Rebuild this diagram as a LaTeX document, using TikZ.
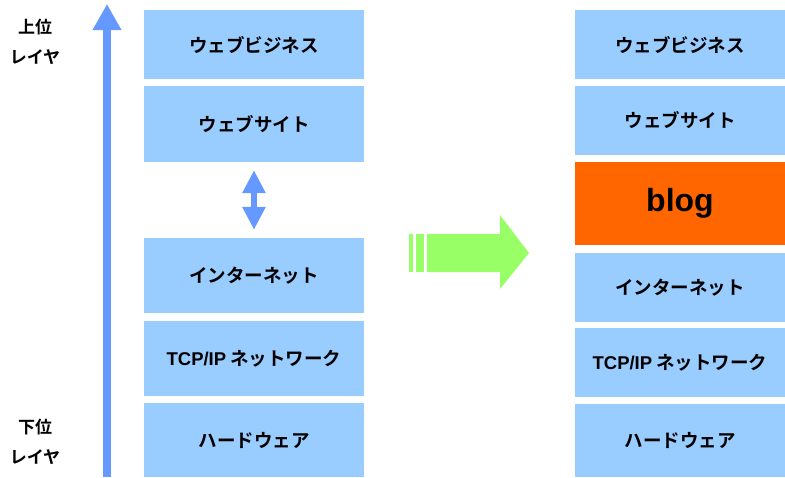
\documentclass[tikz,border=0pt]{standalone}
\usepackage{fontspec}
\setmainfont{Liberation Sans}
\newfontfamily\jpb{Noto Sans CJK JP Bold}
\usepackage{tikz}
\usetikzlibrary{arrows.meta}
\definecolor{layerblue}{HTML}{99CCFF}
\definecolor{axisblue}{HTML}{6699FF}
\definecolor{blogorange}{HTML}{FF6600}
\definecolor{shiftgreen}{HTML}{99FF66}
\newcommand{\lat}[1]{{\rmfamily\bfseries #1}}

\begin{document}
\begin{tikzpicture}[x=1pt, y=-1pt,
  layer/.style={fill=layerblue, inner sep=0pt, font=\jpb\fontsize{18.5}{20}\selectfont},
  side/.style={align=center, font=\jpb\fontsize{17}{30}\selectfont}]
\useasboundingbox (0,0) rectangle (785,477);
% left stack
\foreach \name/\y/\h/\txt in {
L1/44.5/69/ウェブビジネス, L2/124/76/ウェブサイト,
L3/275.5/75/インターネット, L4/358.5/75/{\lat{TCP/IP} ネットワーク},
L5/440/74/ハードウェア
}{
\node[layer, minimum width=220pt, minimum height=\h pt] (\name) at (254,\y) {\txt};
}
% right stack
\foreach \name/\y/\h/\txt in {
R1/44.5/69/ウェブビジネス, R2/120.5/69/ウェブサイト,
R4/287.5/69/インターネット, R5/362.5/69/{\lat{TCP/IP} ネットワーク},
R6/440.5/73/ハードウェア
}{
\node[layer, minimum width=210pt, minimum height=\h pt] (\name) at (680,\y) {\txt};
}
\node[fill=blogorange, inner sep=0pt, minimum width=210pt, minimum height=83pt,
  font=\rmfamily\bfseries\fontsize{32}{36}\selectfont] (R3) at (680,203.5) {blog};
% layer axis
\coordinate (axisbot) at (107,477);
\coordinate (axistop) at (107,4);
\draw[axisblue, line width=8pt, -{Triangle[width=27pt,length=26pt]}] (axisbot) -- (axistop);
\node[side] (upper) at (35,42) {上位\\レイヤ};
\node[side] (lower) at (35,442) {下位\\レイヤ};
% link between site and internet
\draw[axisblue, line width=6pt, {Triangle[width=22pt,length=23pt]}-{Triangle[width=22pt,length=23pt]}]
  ([yshift=-8pt]L2.south) -- ([yshift=8pt]L3.north);
% shift arrow
\fill[shiftgreen] (409,234) rectangle (413,272);
\fill[shiftgreen] (416,234) rectangle (424,272);
\fill[shiftgreen] (427,234) -- (500,234) -- (500,215) -- (529,253) -- (500,289)
  -- (500,272) -- (427,272) -- cycle;
\end{tikzpicture}
\end{document}
